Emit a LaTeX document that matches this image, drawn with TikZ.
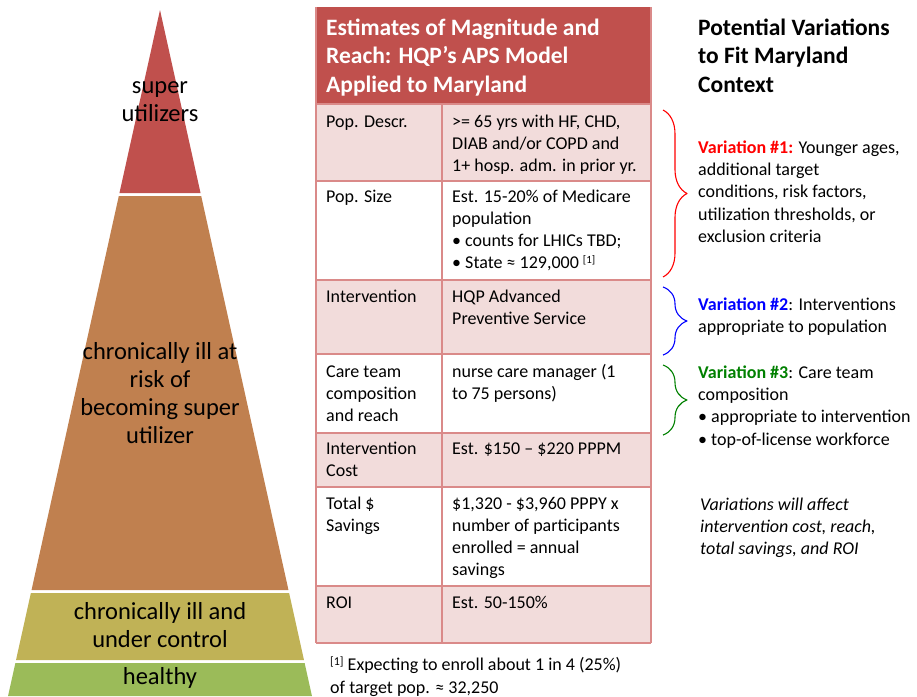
\documentclass[tikz,border=0pt]{standalone}
\usepackage{fontspec}
\setmainfont{Carlito}
\usetikzlibrary{decorations.pathreplacing}

\definecolor{pyrred}{HTML}{C0504D}
\definecolor{pyrbrown}{HTML}{C0804F}
\definecolor{pyrolive}{HTML}{C0B256}
\definecolor{pyrgreen}{HTML}{9BBB59}
\definecolor{tblhead}{HTML}{C0504D}
\definecolor{tblpink}{HTML}{F2DCDB}
\definecolor{tblrule}{HTML}{DA8A89}
\definecolor{varred}{HTML}{FF0000}
\definecolor{varblue}{HTML}{0000FF}
\definecolor{vargreen}{HTML}{008000}

\tikzset{
  pyrlabel/.style={align=center,inner sep=0pt,font=\fontsize{24.5}{28}\selectfont},
  headlabel/.style={anchor=base west,align=left,inner sep=0pt,font=\bfseries\fontsize{23.5}{28.5}\selectfont},
  cell/.style={anchor=base west,align=left,inner sep=0pt,font=\fontsize{18}{22}\selectfont},
  vartext/.style={anchor=base west,align=left,inner sep=0pt,font=\fontsize{18}{22.4}\selectfont},
  varbrace/.style={line width=1.1pt,decorate,decoration={brace,amplitude=24pt}},
}

\begin{document}
\begin{tikzpicture}[x=1pt,y=-1pt,line join=round]
\useasboundingbox (0,0) rectangle (917,696);

% pyramid bands
\foreach \yt/\yb/\col in {10/193/pyrred,196/590/pyrbrown,593/660/pyrolive,663/696/pyrgreen}
  \fill[\col] ({160-0.2215*(\yt-10)},\yt) -- ({160+0.2215*(\yt-10)},\yt)
    -- ({160+0.2215*(\yb-10)},\yb) -- ({160-0.2215*(\yb-10)},\yb) -- cycle;
\node[pyrlabel] (super) at (160,102) {super\\utilizers};
\node[pyrlabel] (atrisk) at (160,393) {chronically ill at\\risk of\\becoming super\\utilizer};
\node[pyrlabel] (control) at (160,625) {chronically ill and\\under control};
\node[pyrlabel] (healthy) at (160,678) {healthy};

% table (base anchor = last line)
\fill[tblhead] (316,7) rectangle (651,104);
\foreach \yt/\yb/\col in {104/181/tblpink,181/280/white,280/354/tblpink,354/433/white,433/487/tblpink,487/586/white,586/643/tblpink}
  \fill[\col] (316,\yt) rectangle (651,\yb);
\foreach \y in {104,181,280,354,433,487,586,643}
  \draw[tblrule,line width=1.5pt] (316,\y) -- (651,\y);
\draw[tblrule,line width=1.5pt] (316,7) -- (316,643) (651,7) -- (651,643) (442,104) -- (442,643);

\node[headlabel,text=white] (tabtitle) at (326,92) {Estimates of Magnitude and\\Reach: HQP’s APS Model\\Applied to Maryland};

\node[cell] (descrkey) at (326,127) {Pop. Descr.};
\node[cell] (descrval) at (452,171) {>= 65 yrs with HF, CHD,\\DIAB and/or COPD and\\1+ hosp. adm. in prior yr.};
\node[cell] (sizekey) at (326,202) {Pop. Size};
\node[cell] (sizeval) at (452,268) {Est. 15-20\% of Medicare\\population\\• counts for LHICs TBD;\\• State ≈ 129,000 \raisebox{0.55ex}{\fontsize{11}{11}\selectfont[1]}};
\node[cell] (intvkey) at (326,302) {Intervention};
\node[cell] (intvval) at (452,324) {HQP Advanced\\Preventive Service};
\node[cell] (teamkey) at (326,421) {Care team\\composition\\and reach};
\node[cell] (teamval) at (452,399) {nurse care manager (1\\to 75 persons)};
\node[cell] (costkey) at (326,476) {Intervention\\Cost};
\node[cell] (costval) at (452,454) {Est. \$150 – \$220 PPPM};
\node[cell] (savekey) at (326,531) {Total \$\\Savings};
\node[cell] (saveval) at (452,575) {\$1,320 - \$3,960 PPPY x\\number of participants\\enrolled = annual\\savings};
\node[cell] (roikey) at (326,608) {ROI};
\node[cell] (roival) at (452,608) {Est. 50-150\%};

\node[cell,font=\fontsize{18}{23}\selectfont] (footnote) at (330,693) {\raisebox{0.55ex}{\fontsize{12}{12}\selectfont[1]} Expecting to enroll about 1 in 4 (25\%)\\of target pop. ≈ 32,250};

% variations
\node[headlabel] (vartitle) at (698,92) {Potential Variations\\to Fit Maryland\\Context};

\coordinate (br1a) at (663,110);
\coordinate (br1b) at (663,277);
\coordinate (br2a) at (663,287);
\coordinate (br2b) at (663,355);
\coordinate (br3a) at (663,365);
\coordinate (br3b) at (663,435);
\draw[varbrace,varred] (br1a) -- (br1b);
\draw[varbrace,varblue] (br2a) -- (br2b);
\draw[varbrace,vargreen] (br3a) -- (br3b);

\node[vartext] (var1) at (698,242.6) {\textcolor{varred}{\bfseries Variation \#1:} Younger ages,\\additional target\\conditions, risk factors,\\utilization thresholds, or\\exclusion criteria};
\node[vartext] (var2) at (698,332.4) {\textcolor{varblue}{\bfseries Variation \#2}: Interventions\\appropriate to population};
\node[vartext] (var3) at (698,445.2) {\textcolor{vargreen}{\bfseries Variation \#3}: Care team\\composition\\• appropriate to intervention\\• top-of-license workforce};
\node[vartext,font=\itshape\fontsize{18}{22}\selectfont] (effect) at (700,554) {Variations will affect\\intervention cost, reach,\\total savings, and ROI};
\end{tikzpicture}
\end{document}
